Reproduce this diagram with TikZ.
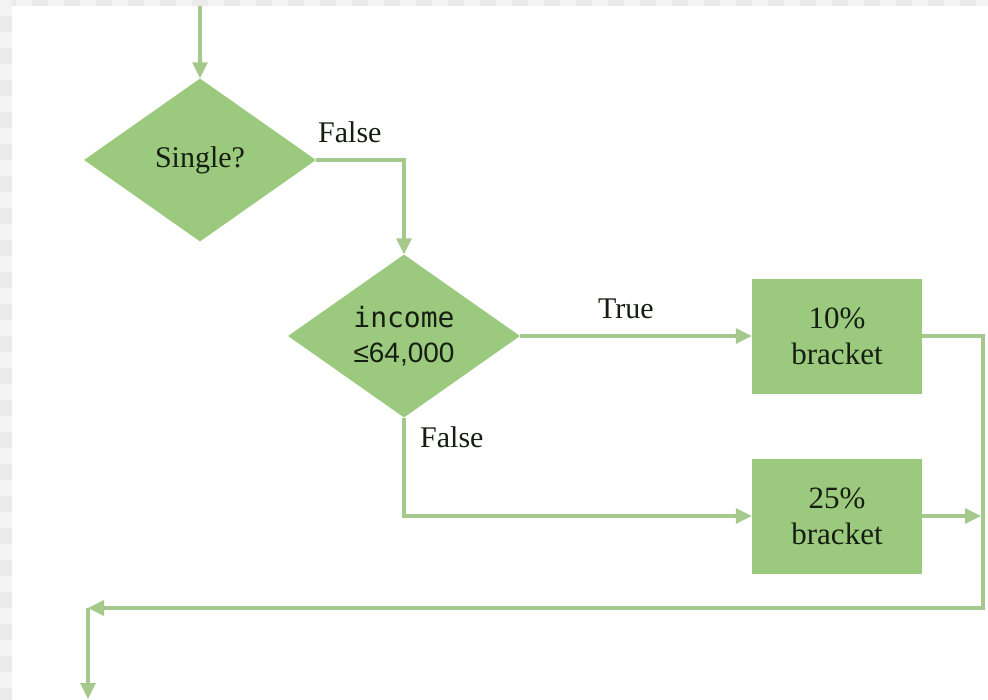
\documentclass[tikz,border=0pt]{standalone}
\usepackage{fontspec}
\setmainfont{Liberation Serif}
\newfontfamily\monof{DejaVu Sans Mono}
\newfontfamily\sansf{Liberation Sans}
\usetikzlibrary{shapes.geometric,arrows.meta}
\definecolor{boxfill}{RGB}{155,202,126}
\definecolor{linec}{RGB}{165,200,140}
\definecolor{txt}{RGB}{22,30,18}
\definecolor{chka}{RGB}{234,234,234}
\definecolor{chkb}{RGB}{243,243,243}
\begin{document}
\begin{tikzpicture}[x=1pt,y=-1pt,
  dec/.style={diamond, fill=boxfill, inner sep=0pt, aspect=1.43, minimum width=232pt, minimum height=163pt, text=txt, align=center},
  proc/.style={rectangle, fill=boxfill, minimum width=170pt, minimum height=115pt, inner sep=0pt, text=txt, align=center, font=\fontsize{31}{36}\selectfont},
  conn/.style={draw=linec, line width=3.2pt},
  arr/.style={conn, -{Triangle[length=16pt,width=15pt]}},
  lbl/.style={text=txt, font=\fontsize{30}{35}\selectfont, inner sep=0pt}]
\useasboundingbox (0,0) rectangle (988,699);
\fill[white] (0,0) rectangle (988,699);
\foreach \i in {0,2,...,62} {
  \fill[chka] (\i*16,0) rectangle ++(16,6);
  \fill[chkb] (\i*16+16,0) rectangle ++(16,6);
}
\foreach \j in {0,2,...,44} {
  \fill[chkb] (0,\j*16) rectangle ++(12,16);
  \fill[chka] (0,\j*16+16) rectangle ++(12,16);
}
\node[dec, font=\fontsize{30}{35}\selectfont] (single) at (200,160) {Single?};
\node[dec, font=\fontsize{28}{35}\selectfont] (inc) at (404,336) {{\monof income}\\{\sansf ≤64,000}};
\node[proc] (b1) at (837,336) {10\%\\bracket};
\node[proc] (b2) at (837,516) {25\%\\bracket};
\coordinate (start) at (200,6);
\coordinate (r) at (981,516);
\coordinate (c1) at (983,608);
\coordinate (c2) at (88,608);
\coordinate (end) at (88,699);
\draw[arr] (start) -- (single.north);
\draw[arr] (single.east) -| (inc.north);
\node[lbl, anchor=base west] (f1) at (318,142) {False};
\draw[arr] (inc.east) -- (b1.west);
\node[lbl, anchor=base west] (t1) at (598,318) {True};
\draw[arr] (inc.south) |- (b2.west);
\node[lbl, anchor=base west] (f2) at (420,447) {False};
\draw[arr] (b2.east) -- (r);
\draw[arr] (b1.east) -| (c1) -- (c2);
\draw[arr] (c2) -- (end);
\end{tikzpicture}
\end{document}
